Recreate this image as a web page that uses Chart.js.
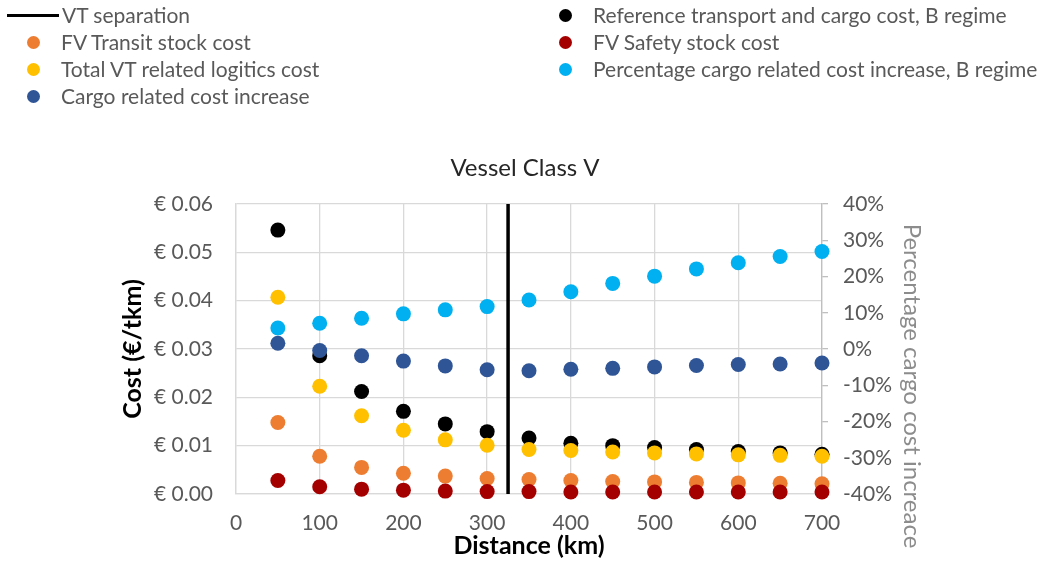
<!DOCTYPE html>
<html>
<head>
<meta charset="utf-8">
<script src="https://cdn.jsdelivr.net/npm/chart.js@4"></script>
<style>
  body { margin: 0; background: #fff; }
  #wrap { position: relative; width: 1050px; height: 561px; font-family: Lato, "Liberation Sans", sans-serif; }
  #chart { position: absolute; left: 0; top: 0; }
  .lg { position: absolute; font-size: 21px; color: #595959; line-height: 24px; white-space: nowrap; }
  .dot { position: absolute; width: 13px; height: 13px; border-radius: 50%; }
  .bar { position: absolute; height: 3px; background: #000; }
</style>
</head>
<body>
<div id="wrap">
  <canvas id="chart" width="1050" height="561"></canvas>
  <div id="legend"></div>
</div>
<script>
// Dữ liệu
const distances = [50, 100, 150, 200, 250, 300, 350, 400, 450, 500, 550, 600, 650, 700];
const referenceCost = [0.0546, 0.0286, 0.0212, 0.0171, 0.0145, 0.0129, 0.0116, 0.0105, 0.0100, 0.0096, 0.0092, 0.0088, 0.0085, 0.0082];
const transitCost = [0.0148, 0.0078, 0.0055, 0.0043, 0.0037, 0.0032, 0.0030, 0.0028, 0.0026, 0.0025, 0.0024, 0.0023, 0.0022, 0.0021];
const safetyCost = [0.0028, 0.0015, 0.0010, 0.0008, 0.0006, 0.0005, 0.0005, 0.0004, 0.0004, 0.0004, 0.0004, 0.0004, 0.0004, 0.0004];
const totalVtCost = [0.0407, 0.0223, 0.0162, 0.0132, 0.0112, 0.0101, 0.0092, 0.0090, 0.0087, 0.0085, 0.0083, 0.0081, 0.0080, 0.0078];
const pctIncrease = [5.8, 7.1, 8.5, 9.7, 10.8, 11.7, 13.5, 15.8, 18.1, 20.1, 22.1, 23.8, 25.5, 26.9];
const cargoIncrease = [0.0312, 0.0297, 0.0286, 0.0275, 0.0265, 0.0257, 0.0255, 0.0258, 0.0260, 0.0263, 0.0266, 0.0268, 0.0269, 0.0271];
const vtSeparation = 325;
const costTicks = [0, 0.01, 0.02, 0.03, 0.04, 0.05, 0.06];
const pctTicks = [-40, -30, -20, -10, 0, 10, 20, 30, 40];

const FONT = "Lato, 'Liberation Sans', sans-serif";
const GREY = "#595959";

function pts(ys) {
  return distances.map((x, i) => ({ x: x, y: ys[i] }));
}

// Thứ tự series như trong Excel (series sau vẽ đè lên series trước)
const series = [
  { label: "VT separation", color: "#000000", line: true,
    data: [{ x: vtSeparation, y: costTicks[0] }, { x: vtSeparation, y: costTicks[costTicks.length - 1] }] },
  { label: "Reference transport and cargo cost, B regime", color: "#000000", data: pts(referenceCost) },
  { label: "FV Transit stock cost", color: "#ED7D31", data: pts(transitCost) },
  { label: "FV Safety stock cost", color: "#A50000", data: pts(safetyCost) },
  { label: "Total VT related logitics cost", color: "#FFC000", data: pts(totalVtCost) },
  { label: "Percentage cargo related cost increase, B regime", color: "#00B0F0", data: pts(pctIncrease), axis: "y1" },
  { label: "Cargo related cost increase", color: "#2F5597", data: pts(cargoIncrease) },
];

const datasets = series.map((s, i) => ({
  label: s.label,
  data: s.data,
  yAxisID: s.axis || "y",
  showLine: !!s.line,
  borderColor: s.color,
  backgroundColor: s.color,
  borderWidth: s.line ? 3.5 : 0,
  pointRadius: s.line ? 0 : 7.5,
  pointHoverRadius: s.line ? 0 : 7.5,
  clip: false,
  order: series.length - i,
}));

// Chú thích dạng hai cột như hình gốc
const legendLayout = [
  [0, 7, 15], [2, 7, 42], [4, 7, 69], [6, 7, 96],
  [1, 539, 15], [3, 539, 42], [5, 539, 69],
];
const legendEl = document.getElementById("legend");
legendLayout.forEach(([idx, x0, yc]) => {
  const s = series[idx];
  if (s.line) {
    const b = document.createElement("div");
    b.className = "bar";
    b.style.left = x0 + "px"; b.style.width = "52px"; b.style.top = (yc - 1.5) + "px";
    legendEl.appendChild(b);
  } else {
    const d = document.createElement("div");
    d.className = "dot";
    d.style.left = (x0 + 26 - 6.5) + "px"; d.style.top = (yc - 6.5) + "px";
    d.style.background = s.color;
    legendEl.appendChild(d);
  }
  const t = document.createElement("div");
  t.className = "lg";
  t.textContent = s.label;
  t.style.left = (x0 + (s.line ? 55 : 54)) + "px";
  t.style.top = (yc - 12) + "px";
  legendEl.appendChild(t);
});

// Tiêu đề trục phải vẽ tay để đặt đúng vị trí
const rightTitle = {
  id: "rightTitle",
  afterDraw(chart) {
    const ctx = chart.ctx;
    ctx.save();
    ctx.translate(912, 386);
    ctx.rotate(Math.PI / 2);
    ctx.font = "24px " + FONT;
    ctx.fillStyle = "#8C8C8C";
    ctx.textAlign = "center";
    ctx.textBaseline = "middle";
    ctx.fillText("Percentage cargo cost increace", 0, 0);
    ctx.restore();
  },
};

const config = {
  type: "scatter",
  data: { datasets: datasets },
  options: {
    responsive: false,
    animation: false,
    layout: { padding: 0 },
    plugins: {
      legend: { display: false },
      tooltip: { enabled: false },
      title: {
        display: true,
        text: "Vessel Class V",
        color: "#262626",
        font: { family: FONT, size: 24, weight: "normal" },
        padding: { top: 154, bottom: 21.2 },
      },
    },
    scales: {
      x: {
        type: "linear",
        min: 0, max: 700,
        ticks: { stepSize: 100, color: GREY, font: { family: FONT, size: 21 }, padding: 17 },
        grid: { color: "#D9D9D9", lineWidth: 1.3, drawTicks: false },
        border: { color: "#D9D9D9", width: 1.3 },
        title: {
          display: true, text: "Distance (km)", color: "#000",
          font: { family: FONT, size: 25, weight: "bold" },
          padding: { top: 0, bottom: 0 },
        },
        afterFit(scale) { scale.height = 67; },
      },
      y: {
        position: "left",
        min: costTicks[0], max: costTicks[costTicks.length - 1],
        afterBuildTicks(scale) { scale.ticks = costTicks.map(v => ({ value: v })); },
        ticks: {
          color: GREY, font: { family: FONT, size: 21 }, padding: 23,
          callback: v => "€ " + v.toFixed(2),
        },
        grid: { color: "#D9D9D9", lineWidth: 1.3, drawTicks: false },
        border: { color: "#D9D9D9", width: 1.3 },
        title: {
          display: true, text: "Cost (€/tkm)", color: "#000",
          font: { family: FONT, size: 25, weight: "bold" },
          padding: { top: 118, bottom: 0 },
        },
        afterFit(scale) { scale.width = 236; },
      },
      y1: {
        position: "right",
        min: pctTicks[0], max: pctTicks[pctTicks.length - 1],
        afterBuildTicks(scale) { scale.ticks = pctTicks.map(v => ({ value: v })); },
        ticks: {
          color: GREY, font: { family: FONT, size: 21 }, padding: 15,
          callback: v => v + "%",
        },
        grid: { drawOnChartArea: false, color: "#BFBFBF", lineWidth: 1.3, tickLength: 6 },
        border: { color: "#BFBFBF", width: 1.3 },
        afterFit(scale) { scale.width = 228; },
      },
    },
  },
  plugins: [rightTitle],
};

const costChart = new Chart(document.getElementById("chart"), config);
</script>
</body>
</html>
